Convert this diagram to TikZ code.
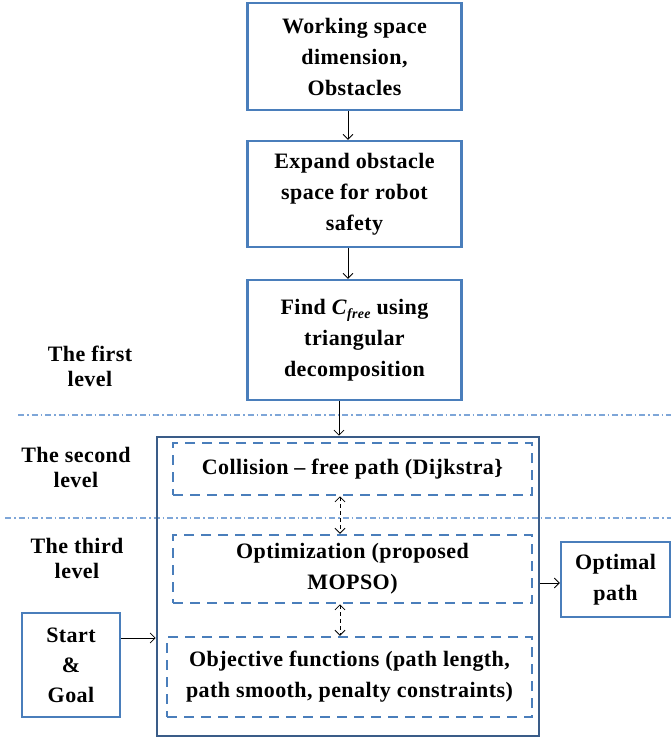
\documentclass[tikz,border=0pt]{standalone}
\usepackage{fontspec}
\setmainfont{Liberation Serif}[LetterSpace=2]
\usetikzlibrary{arrows.meta}
\definecolor{boxblue}{HTML}{4A7EBB}
\definecolor{darkblue}{HTML}{3A5C88}
\definecolor{lineblue}{HTML}{7EA6D8}
\begin{document}
\begin{tikzpicture}[x=1pt,y=-1pt,
  every node/.style={font=\fontsize{22}{31}\selectfont\bfseries, align=center, inner sep=0pt},
  solidbox/.style={draw=boxblue, line width=2.3pt},
  bigbox/.style={draw=darkblue, line width=2.6pt},
  dashbox/.style={draw=boxblue, line width=2.5pt, dash pattern=on 10pt off 7pt},
  levellabel/.style={font=\fontsize{22}{24.5}\selectfont\bfseries},
  sepline/.style={draw=lineblue, line width=1.1pt, dash pattern=on 6pt off 3pt on 1.5pt off 3pt},
  arr/.style={-{Straight Barb[length=5pt,width=10pt]}, line width=0.8pt},
  dblarr/.style={{Straight Barb[length=5pt,width=10pt]}-{Straight Barb[length=5pt,width=10pt]}, line width=0.8pt, dash pattern=on 4pt off 3pt}
]
\useasboundingbox (0,0) rectangle (671,740);

% separators
\draw[sepline] (18,415) -- (671,415);
\draw[sepline] (5,518) -- (671,518);

% first level boxes
\node[solidbox, minimum width=214pt, minimum height=107pt] (b1) at (354.5,56.5) {Working space\\dimension,\\Obstacles};
\node[solidbox, minimum width=214pt, minimum height=106pt] (b2) at (354.5,194) {Expand obstacle\\space for robot\\safety};
\node[solidbox, minimum width=214pt, minimum height=120pt] (b3) at (354.5,340) {Find \textit{C}\raisebox{-4pt}{\fontsize{14}{14}\selectfont\itshape free} using\\triangular\\decomposition};

% big box
\node[bigbox, minimum width=382pt, minimum height=299pt] (big) at (348,586.5) {};

% inner dashed boxes
\node[dashbox, minimum width=359pt, minimum height=52pt] (d1) at (352.5,469) {Collision -- free path (Dijkstra\}};
\node[dashbox, minimum width=359pt, minimum height=68pt] (d2) at (352.5,569) {Optimization (proposed\\MOPSO)};
\node[dashbox, minimum width=365pt, minimum height=80pt] (d3) at (349.5,677) {Objective functions (path length,\\path smooth, penalty constraints)};

% side boxes
\node[solidbox, minimum width=98pt, minimum height=104pt, font=\fontsize{22}{30}\selectfont\bfseries] (sg) at (71,665) {Start\\\&\\Goal};
\node[solidbox, minimum width=109pt, minimum height=75pt] (op) at (615.5,579.5) {Optimal\\path};

% level labels
\node[levellabel] (l1) at (90,366.5) {The first\\level};
\node[levellabel] (l2) at (76,467.5) {The second\\level};
\node[levellabel] (l3) at (77,558.5) {The third\\level};

% connectors
\draw[arr] ([xshift=-6.5pt]b1.south) -- ([xshift=-6.5pt]b2.north);
\draw[arr] ([xshift=-6.5pt]b2.south) -- ([xshift=-6.5pt]b3.north);
\draw[arr] ([xshift=-15.5pt]b3.south) -- ([xshift=-9pt]big.north);
\draw[dblarr] ([xshift=-12.5pt]d1.south) -- ([xshift=-12.5pt]d2.north);
\draw[dblarr] ([xshift=-12.5pt]d2.south) -- ([xshift=-9.5pt]d3.north);
\draw[arr] ([yshift=27pt]sg.east) -- ([yshift=27pt]sg.east -| big.west);
\draw[arr] ([yshift=3.5pt]big.east) -- ([yshift=3.5pt]big.east -| op.west);
\end{tikzpicture}
\end{document}
